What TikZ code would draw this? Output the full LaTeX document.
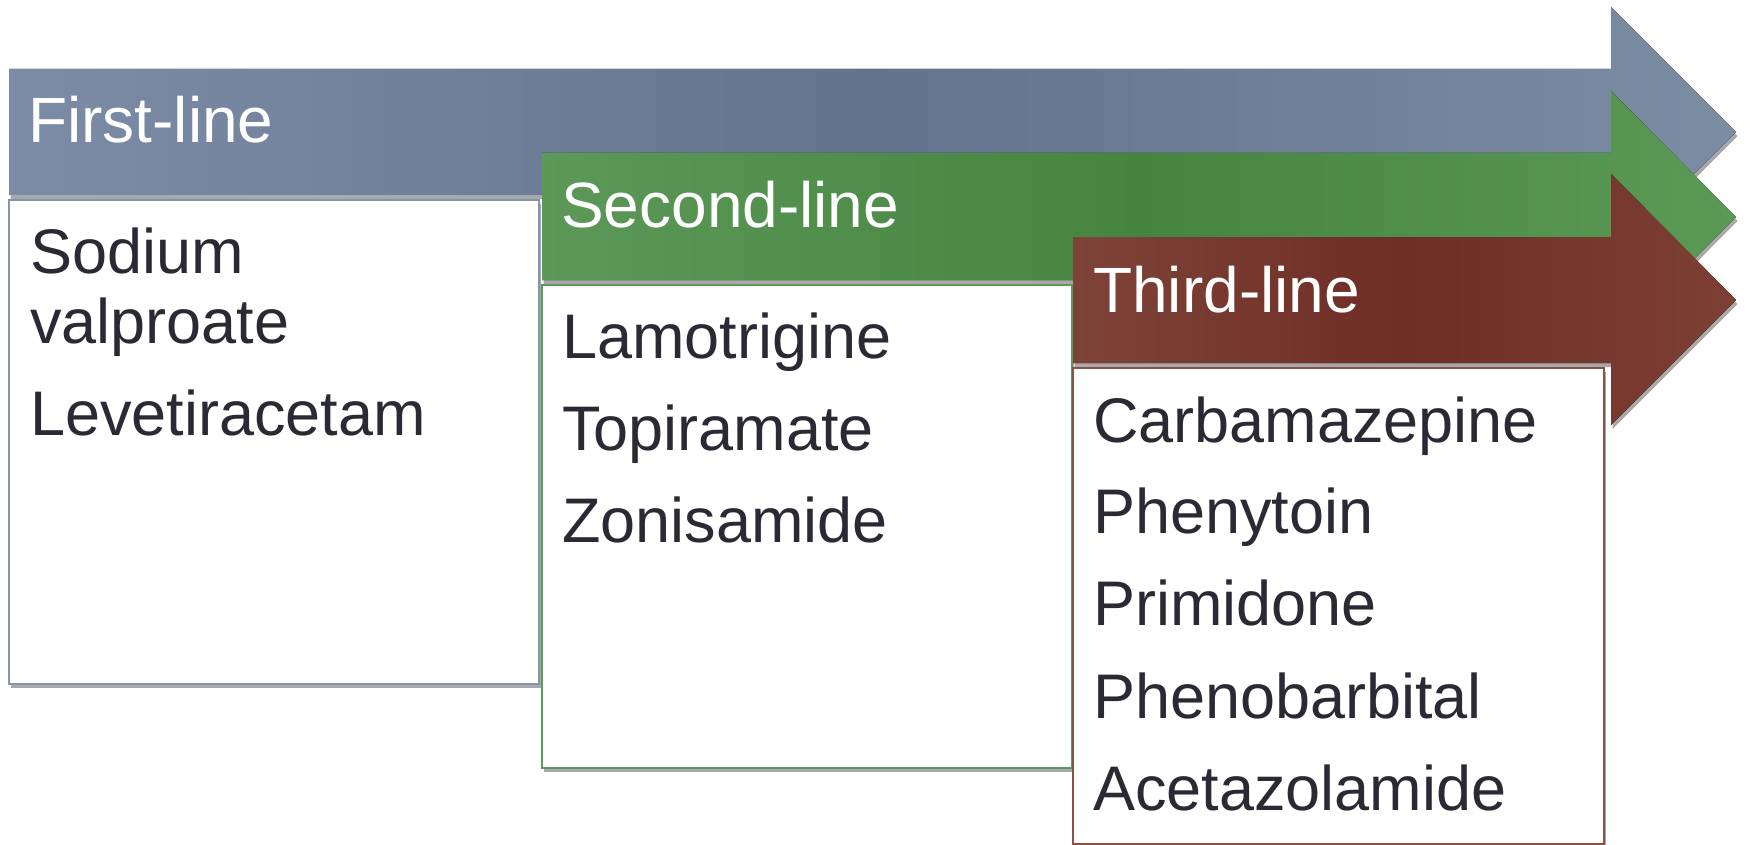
\documentclass[tikz,border=0pt]{standalone}
\usepackage{fontspec}
\setmainfont{Liberation Sans}
\usetikzlibrary{shadows}

\definecolor{txt}{HTML}{2A2A35}
\definecolor{blueL}{HTML}{7D8CA6}
\definecolor{blueM}{HTML}{63738E}
\definecolor{blueR}{HTML}{7C8CA3}
\definecolor{greenL}{HTML}{5C9858}
\definecolor{greenM}{HTML}{46843F}
\definecolor{greenR}{HTML}{5B9A56}
\definecolor{redL}{HTML}{7E4338}
\definecolor{redM}{HTML}{6E2D25}
\definecolor{redR}{HTML}{7D4035}
\definecolor{blueEdge}{HTML}{8494AC}
\definecolor{greenEdge}{HTML}{5C9A57}
\definecolor{redEdge}{HTML}{8C5045}

\tikzset{
  softshadow/.style={drop shadow={shadow xshift=1.5pt,shadow yshift=-4pt,opacity=.45,fill=black!75}},
  listbox/.style={fill=white,line width=2pt,softshadow},
  headtext/.style={text=white,font=\fontsize{64}{64}\selectfont,anchor=base west,inner sep=0pt},
  itemtext/.style={text=txt,font=\fontsize{63}{63}\selectfont,anchor=base west,inner sep=0pt}
}

\begin{document}
\begin{tikzpicture}[x=1pt,y=-1pt]
\useasboundingbox (0,0) rectangle (1750,845);

% first-line arrow and its list
\fill[left color=blueL,right color=blueR,middle color=blueM,softshadow]
  (9,69) -- (1611,69) -- (1611,7) -- (1736,132) -- (1611,257) -- (1611,195) -- (9,195) -- cycle;
\draw[listbox,draw=blueEdge] (9,200) rectangle (539,684);
\node[headtext] (h1) at (28,143) {First-line};
\node[itemtext] (a1) at (30,273) {Sodium};
\node[itemtext] (a2) at (30,343) {valproate};
\node[itemtext] (a3) at (30,435) {Levetiracetam};

% second-line arrow and its list
\fill[left color=greenL,right color=greenR,middle color=greenM,softshadow]
  (542,153) -- (1611,153) -- (1611,91) -- (1736,217) -- (1611,343) -- (1611,280) -- (542,280) -- cycle;
\draw[listbox,draw=greenEdge] (542,285) rectangle (1072,768);
\node[headtext] (h2) at (561,227) {Second-line};
\node[itemtext] (b1) at (562,358) {Lamotrigine};
\node[itemtext] (b2) at (562,450) {Topiramate};
\node[itemtext] (b3) at (562,542) {Zonisamide};

% third-line arrow and its list
\fill[left color=redL,right color=redR,middle color=redM,softshadow]
  (1073,237) -- (1611,237) -- (1611,174) -- (1736,300) -- (1611,425) -- (1611,363) -- (1073,363) -- cycle;
\draw[listbox,draw=redEdge] (1073,368) rectangle (1604,844);
\node[headtext] (h3) at (1093,312) {Third-line};
\node[itemtext] (c1) at (1093,442) {Carbamazepine};
\node[itemtext] (c2) at (1093,533) {Phenytoin};
\node[itemtext] (c3) at (1093,625) {Primidone};
\node[itemtext] (c4) at (1093,718) {Phenobarbital};
\node[itemtext] (c5) at (1093,810) {Acetazolamide};
\end{tikzpicture}
\end{document}
